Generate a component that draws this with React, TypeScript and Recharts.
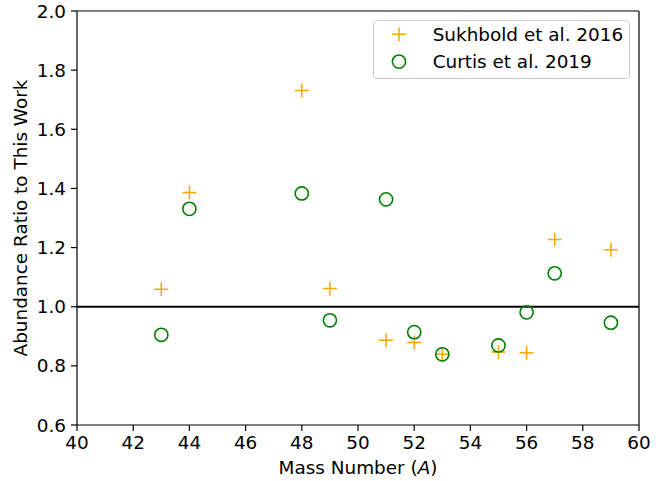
import React from "react";
import {
  ScatterChart,
  Scatter,
  XAxis,
  YAxis,
  ReferenceLine,
  Legend,
} from "recharts";

const massNumbers = [43, 44, 48, 49, 51, 52, 53, 55, 56, 57, 59];
const sukhbold2016 = [1.059, 1.386, 1.731, 1.062, 0.887, 0.879, 0.839, 0.847, 0.844, 1.227, 1.193];
const curtis2019 = [0.905, 1.331, 1.383, 0.954, 1.363, 0.914, 0.839, 0.869, 0.981, 1.113, 0.946];

const xTicks = [40, 42, 44, 46, 48, 50, 52, 54, 56, 58, 60];
const yTicks = [0.6, 0.8, 1.0, 1.2, 1.4, 1.6, 1.8, 2.0];

const seriesNames = ["Sukhbold et al. 2016", "Curtis et al. 2019"];

const ORANGE = "#FFA500";
const GREEN = "#008000";
const FONT = "DejaVu Sans, sans-serif";
const FS = 18.4;

const sukhboldData = massNumbers.map((x, i) => ({ x, y: sukhbold2016[i] }));
const curtisData = massNumbers.map((x, i) => ({ x, y: curtis2019[i] }));

const PlusShape = (props: any) => {
  const { cx, cy } = props;
  const h = 7;
  return (
    <path
      d={`M${cx - h},${cy}L${cx + h},${cy}M${cx},${cy - h}L${cx},${cy + h}`}
      stroke={ORANGE}
      strokeWidth={1.5}
      fill="none"
    />
  );
};

const CircleShape = (props: any) => {
  const { cx, cy } = props;
  return <circle cx={cx} cy={cy} r={6.6} stroke={GREEN} strokeWidth={1.6} fill="none" />;
};

const LegendBox = () => (
  <svg width={258} height={60} style={{ display: "block" }}>
    <rect x={0.5} y={0.5} width={256} height={58} rx={3} ry={3} fill="rgba(255,255,255,0.8)" stroke="#cccccc" strokeWidth={1} />
    <path d="M19,14.3L33,14.3M26,7.3L26,21.3" stroke={ORANGE} strokeWidth={1.5} fill="none" />
    <circle cx={26} cy={41.6} r={6.6} stroke={GREEN} strokeWidth={1.6} fill="none" />
    <text x={59.7} y={20.9} fontFamily={FONT} fontSize={FS} fill="#000">
      {seriesNames[0]}
    </text>
    <text x={59.7} y={48.2} fontFamily={FONT} fontSize={FS} fill="#000">
      {seriesNames[1]}
    </text>
  </svg>
);

export default function App() {
  return (
    <div style={{ position: "absolute", left: 0, top: 0, width: 671, height: 481, background: "#fff" }}>
      <ScatterChart
        width={671}
        height={481}
        margin={{ top: 11, right: 32, bottom: 0, left: 0 }}
        style={{ fontFamily: FONT }}
      >
        <XAxis
          type="number"
          dataKey="x"
          domain={[40, 60]}
          ticks={xTicks}
          height={56}
          tickSize={6}
          tickMargin={5}
          stroke="#000"
          strokeWidth={1.2}
          tick={{ fill: "#000", fontSize: FS, fontFamily: FONT }}
          label={{
            value: "Mass Number (A)",
            position: "insideBottom",
            offset: 7,
            style: { fill: "#000", fontSize: FS, fontFamily: FONT, textAnchor: "middle" },
            content: (p: any) => {
              const vb = p.viewBox;
              return (
                <text x={vb.x + vb.width / 2} y={vb.y + vb.height - 7} textAnchor="middle" fontFamily={FONT} fontSize={FS} fill="#000">
                  Mass Number (<tspan fontStyle="italic">A</tspan>)
                </text>
              );
            },
          }}
        />
        <YAxis
          type="number"
          dataKey="y"
          domain={[0.6, 2.0]}
          ticks={yTicks}
          width={77}
          tickSize={6}
          tickMargin={5}
          stroke="#000"
          strokeWidth={1.2}
          tickFormatter={(v: number) => v.toFixed(1)}
          tick={{ fill: "#000", fontSize: FS, fontFamily: FONT }}
          label={{
            value: "Abundance Ratio to This Work",
            angle: -90,
            position: "insideLeft",
            offset: 20.5,
            style: { fill: "#000", fontSize: FS, fontFamily: FONT, textAnchor: "middle" },
          }}
        />
        <ReferenceLine y={2.0} stroke="#000" strokeWidth={1.2} />
        <ReferenceLine x={60} stroke="#000" strokeWidth={1.2} />
        <ReferenceLine y={1.0} stroke="#000" strokeWidth={2} />
        <Scatter
          name={seriesNames[0]}
          data={sukhboldData}
          shape={PlusShape}
          isAnimationActive={false}
        />
        <Scatter
          name={seriesNames[1]}
          data={curtisData}
          shape={CircleShape}
          isAnimationActive={false}
        />
        <Legend
          layout="horizontal"
          verticalAlign="middle"
          align="center"
          content={() => <LegendBox />}
          wrapperStyle={{ position: "absolute", left: 373, top: 20, width: 258, height: 60 }}
        />
      </ScatterChart>
    </div>
  );
}
